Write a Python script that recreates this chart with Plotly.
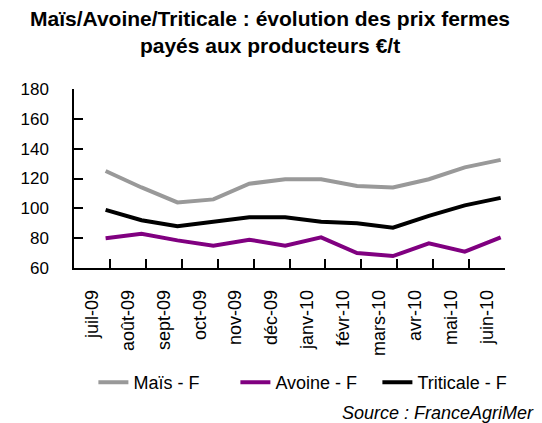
import plotly.graph_objects as go

months = ["juil-09", "août-09", "sept-09", "oct-09", "nov-09", "déc-09",
          "janv-10", "févr-10", "mars-10", "avr-10", "mai-10", "juin-10"]
mais = [125, 114, 104, 106, 116.5, 119.5, 119.5, 115, 114, 119.5, 127.5, 132.5]
avoine = [80, 83, 78.5, 75, 79, 75, 80.5, 70, 68, 76.5, 71, 80.5]
triticale = [99, 92, 88, 91, 94, 94, 91, 90, 87, 95, 102, 107]
yticks = [60, 80, 100, 120, 140, 160, 180]

series = [("Maïs - F", mais, "#999999"),
          ("Avoine - F", avoine, "#800080"),
          ("Triticale - F", triticale, "#000000")]

FONT = "Liberation Sans, Arial, sans-serif"
fig = go.Figure()
for name, vals, col in series:
    fig.add_trace(go.Scatter(x=months, y=vals, name=name, mode="lines",
                             line=dict(color=col, width=4), xaxis="x2"))

# invisible trace on main axis to establish categories
fig.add_trace(go.Scatter(x=months, y=[None]*len(months), showlegend=False,
                         hoverinfo="skip", mode="lines"))

fig.update_layout(
    width=542, height=423,
    margin=dict(l=74, r=37, t=89, b=155),
    paper_bgcolor="white", plot_bgcolor="white",
    font=dict(family=FONT, size=16, color="black"),
    xaxis=dict(type="category", categoryorder="array", categoryarray=months,
               range=[-0.5, 11.5], tickson="boundaries", ticks="inside", ticklen=9,
               tickwidth=1.5, tickcolor="black", showline=True, linecolor="black",
               linewidth=1.5, showgrid=False, zeroline=False, tickangle=-90,
               ticklabelstandoff=13, tickfont=dict(size=18)),
    xaxis2=dict(type="category", categoryorder="array", categoryarray=months,
                overlaying="x", range=[-0.88, 11.12], visible=False),
    yaxis=dict(range=[60, 180], tickvals=yticks, ticks="inside", ticklen=9,
               tickwidth=1.5, tickcolor="black", showline=True, linecolor="black",
               linewidth=1.5, showgrid=False, zeroline=False,
               ticklabelstandoff=20, tickfont=dict(size=17)),
    legend=dict(orientation="h", x=0.045, xanchor="left", y=-0.64, yanchor="middle",
                entrywidth=97, font=dict(size=18), bgcolor="rgba(0,0,0,0)"),
    showlegend=True,
)
fig.add_annotation(text="<b>Maïs/Avoine/Triticale : évolution des prix fermes<br>payés aux producteurs €/t</b>",
                   xref="paper", yref="paper", x=(270 - 74) / 431, y=1.47,
                   xanchor="center", yanchor="top", showarrow=False,
                   font=dict(family=FONT, size=21, color="black"))
fig.add_annotation(text="<i>Source : FranceAgriMer</i>", xref="paper", yref="paper",
                   x=1.072, y=-0.81, xanchor="right", yanchor="middle", showarrow=False,
                   font=dict(family=FONT, size=18, color="black"))
fig.write_html("out.html", config={"displayModeBar": False},
               post_script="document.body.style.margin='0px';")
